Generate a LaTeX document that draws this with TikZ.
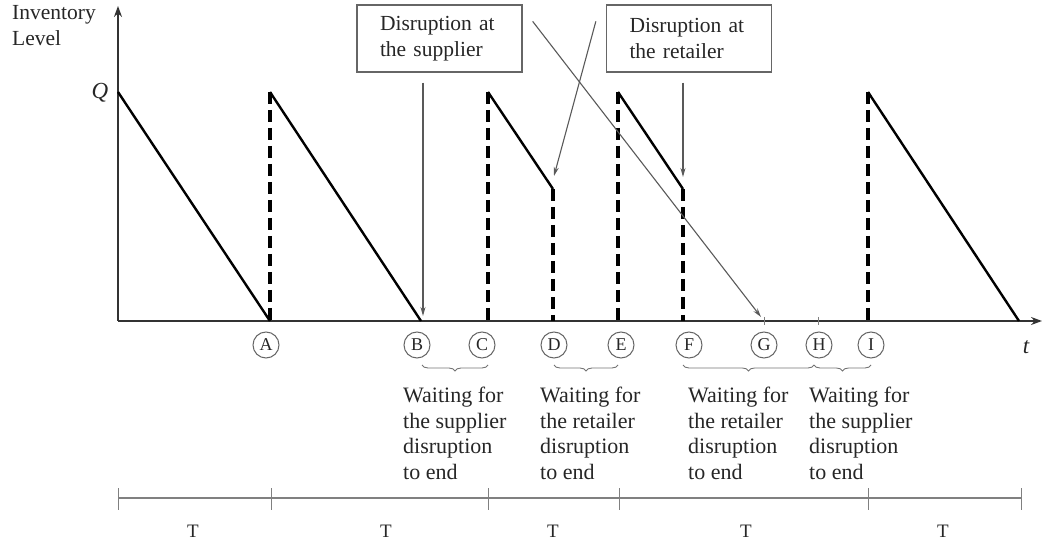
\documentclass[tikz,border=0pt]{standalone}
\usepackage{fontspec}
\setmainfont{Liberation Serif}
\usetikzlibrary{arrows.meta,decorations.pathreplacing}
\begin{document}
\begin{tikzpicture}[x=1pt,y=1pt,
  txt/.style={text=black!85, inner sep=0pt},
  wait/.style={txt, align=left, anchor=north west, font=\fontsize{22}{25.5}\selectfont},
  dbox/.style={draw=black!60, line width=1.3pt, minimum width=165pt, minimum height=67pt, text width=119pt, align=left, inner sep=0pt, text=black!85, font=\fontsize{21.5}{26}\selectfont},
  lbl/.style={circle, draw=black!60, line width=1pt, minimum size=26pt, inner sep=0pt, text=black!85, font=\fontsize{18}{18}\selectfont},
  axis/.style={line width=1.6pt, draw=black!80, -{Stealth[length=11pt,width=8pt]}},
  saw/.style={line width=2.4pt, black, line join=miter},
  drop/.style={line width=4pt, black, dash pattern=on 12pt off 6pt},
  pointer/.style={line width=1.1pt, draw=black!65, -{Stealth[length=9pt,width=5pt]}},
  wbrace/.style={decorate, decoration={brace, mirror, amplitude=6pt}, draw=black!55, line width=0.9pt},
  tline/.style={line width=1.6pt, draw=black!50},
  tick/.style={line width=1pt, draw=black!50},
  tlbl/.style={txt, font=\fontsize{19}{19}\selectfont},
]
\useasboundingbox (0,0) rectangle (1045,-545);

% axes
\coordinate (O) at (118,-321);
\coordinate (Ytop) at (118,-6);
\coordinate (Xend) at (1042,-321);
\draw[axis] (O) -- (Ytop);
\draw[axis] (O) -- (Xend);
\node[txt, align=left, anchor=north west, font=\fontsize{21.5}{26}\selectfont] (ylab) at (12,-5) {Inventory\\Level};
\node[txt, font=\fontsize{23}{23}\selectfont\itshape] (Q) at (100,-93) {Q};
\node[txt, font=\fontsize{23}{23}\selectfont\itshape] (t) at (1026,-347) {t};

% sawtooth points
\coordinate (q0) at (118,-92);
\coordinate (a0) at (270,-321);
\coordinate (q1) at (270,-92);
\coordinate (b0) at (421,-321);
\coordinate (q2) at (488,-92);
\coordinate (c0) at (488,-321);
\coordinate (d1) at (553,-189);
\coordinate (d0) at (553,-321);
\coordinate (q3) at (618,-92);
\coordinate (e0) at (618,-321);
\coordinate (f1) at (683,-189);
\coordinate (f0) at (683,-321);
\coordinate (q4) at (868,-92);
\coordinate (i1) at (868,-321);
\coordinate (i0) at (1019,-321);

\draw[drop] (q1) -- (a0);
\draw[drop] (q2) -- (c0);
\draw[drop] (d1) -- (d0);
\draw[drop] (q3) -- (e0);
\draw[drop] (f1) -- (f0);
\draw[drop] (q4) -- (i1);

\draw[saw] (q0) -- (a0);
\draw[saw] (q1) -- (b0);
\draw[saw] (q2) -- (d1);
\draw[saw] (q3) -- (f1);
\draw[saw] (q4) -- (i0);

% ticks at G and H
\coordinate (gt) at (764,-321);
\coordinate (ht) at (818,-321);
\draw[tick] ([yshift=4pt]gt) -- ([yshift=-4pt]gt);
\draw[tick] ([yshift=4pt]ht) -- ([yshift=-4pt]ht);

% letters
\node[lbl] (A) at (266,-345) {A};
\node[lbl] (B) at (417,-345) {B};
\node[lbl] (C) at (482,-345) {C};
\node[lbl] (D) at (554,-345) {D};
\node[lbl] (E) at (621,-345) {E};
\node[lbl] (F) at (689,-345) {F};
\node[lbl] (G) at (764,-345) {G};
\node[lbl] (H) at (819,-345) {H};
\node[lbl] (I) at (871,-345) {I};

% braces
\draw[wbrace] (422,-365) -- (488,-365);
\draw[wbrace] (554,-365) -- (618,-365);
\draw[wbrace] (683,-365) -- (814,-365);
\draw[wbrace] (814,-365) -- (871,-365);

% waiting texts
\node[wait] (w1) at (403,-387) {Waiting for\\the supplier\\disruption\\to end};
\node[wait] (w2) at (540,-387) {Waiting for\\the retailer\\disruption\\to end};
\node[wait] (w3) at (688,-387) {Waiting for\\the retailer\\disruption\\to end};
\node[wait] (w4) at (809,-387) {Waiting for\\the supplier\\disruption\\to end};

% disruption boxes
\node[dbox] (sup) at (439.5,-38.5) {Disruption at\\the supplier};
\node[dbox] (ret) at (689,-38.5) {Disruption at\\the retailer};

\coordinate (Bhit) at (423,-316);
\coordinate (Ghit) at (761,-317);
\coordinate (Dhit) at (554,-176);
\coordinate (Fhit) at (683,-177);
\draw[pointer] ([shift={(-16.5,-10)}]sup.south) -- (Bhit);
\draw[pointer] ([shift={(10,-17)}]sup.north east) -- (Ghit);
\draw[pointer] ([shift={(-10,-17)}]ret.north west) -- (Dhit);
\draw[pointer] ([shift={(-6,-10)}]ret.south) -- (Fhit);

% period timeline
\coordinate (p0) at (118,-498);
\coordinate (p1) at (271,-498);
\coordinate (p2) at (488,-498);
\coordinate (p3) at (619,-498);
\coordinate (p4) at (868,-498);
\coordinate (p5) at (1021,-498);
\draw[tline] (p0) -- (p5);
\foreach \p in {p0,p1,p2,p3,p4,p5}
  \draw[tick] ([yshift=10pt]\p) -- ([yshift=-12pt]\p);
\node[tlbl] (T1) at (193,-531) {T};
\node[tlbl] (T2) at (386,-531) {T};
\node[tlbl] (T3) at (553,-531) {T};
\node[tlbl] (T4) at (746,-531) {T};
\node[tlbl] (T5) at (943,-531) {T};
\end{tikzpicture}
\end{document}
